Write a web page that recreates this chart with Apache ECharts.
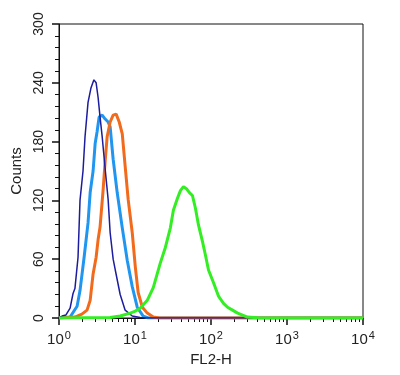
<!DOCTYPE html>
<html><head><meta charset="utf-8">
<script src="https://cdn.jsdelivr.net/npm/echarts@6/dist/echarts.min.js"></script>
<style>html,body{margin:0;padding:0;background:#fff}#c{width:400px;height:375px}</style>
</head><body><div id="c"></div>
<script>
// FL2-H values (log axis) and counts for each histogram
var navyX = [1, 1.1, 1.23, 1.4, 1.53, 1.62, 1.78, 1.89, 2.07, 2.2, 2.41, 2.64, 2.88, 3.08, 3.27, 3.47, 3.7, 4.05, 4.43, 4.71, 5.16, 5.5, 6.38, 7.42, 9.2, 11.7, 14, 10000];
var navyY = [0, 2, 3, 10, 25, 30, 62, 120, 150, 185, 220, 235, 243, 240, 225, 205, 185, 152, 121, 87, 60, 49, 24, 8, 2, 0.5, 0, 0];

var blueX = [1, 1.4, 1.48, 1.73, 1.89, 2.14, 2.41, 2.57, 2.81, 2.99, 3.17, 3.37, 3.7, 4.05, 4.43, 4.71, 5.16, 5.83, 6.77, 7.9, 9.2, 10.7, 12.8, 15, 10000];
var blueY = [0, 1, 3, 12, 28, 62, 97, 128, 150, 178, 190, 205, 207, 203, 200, 195, 162, 128, 93, 59, 32, 11, 2, 0, 0];

var orangeX = [1, 1.62, 2.0, 2.34, 2.57, 2.81, 3.08, 3.27, 3.47, 3.8, 4.05, 4.3, 4.71, 5.16, 5.65, 6.2, 6.8, 7.42, 8.13, 9.2, 10.1, 11.0, 12.5, 14.5, 17.4, 21, 10000];
var orangeY = [0, 1, 4, 8, 18, 45, 62, 80, 93, 130, 160, 185, 200, 207, 208, 200, 188, 155, 121, 87, 52, 26, 11, 5, 1, 0, 0];

var greenX = [1, 4.71, 6.38, 8.65, 10.1, 11.7, 14.5, 17.4, 21.5, 25.1, 29.2, 32.0, 36.1, 39.6, 43.4, 47.5, 52.0, 57.0, 62.4, 68.4, 77.3, 84.6, 92.7, 108, 126, 146, 165, 192, 224, 302, 411, 611, 10000];
var greenY = [0, 0.5, 2, 5, 7, 10, 18, 31, 56, 72, 92, 110, 122, 130, 134, 132, 128, 125, 112, 95, 78, 64, 49, 36, 22, 15, 11, 8, 5, 1, 0.3, 0, 0];

var xMinor = [2,3,4,5,6,7,8,9,20,30,40,50,60,70,80,90,200,300,400,500,600,700,800,900,2000,3000,4000,5000,6000,7000,8000,9000];

function pairs(xs, ys){ return xs.map(function(x,i){ return [x, ys[i]]; }); }

var chart = echarts.init(document.getElementById('c'), null, {renderer:'canvas'});
var font = 'Liberation Sans, Arial, sans-serif';
chart.setOption({
  animation: false,
  grid: {left: 59, right: 37, top: 24, bottom: 57, show: true, borderColor: '#111', borderWidth: 1, backgroundColor: 'transparent'},
  xAxis: [{
    type: 'log', logBase: 10, min: 1, max: 10000,
    name: 'FL2-H', nameLocation: 'middle', nameGap: 32,
    nameTextStyle: {fontFamily: font, fontSize: 15, color: '#222'},
    axisLine: {lineStyle: {color: '#111', width: 1}},
    axisTick: {show: true, length: 7, inside: false, lineStyle: {color: '#111', width: 1.5}},
    axisLabel: {
      margin: 12,
      formatter: function(v){ return '{b|10}{s|' + Math.round(Math.log10(v)) + '}'; },
      rich: {
        b: {fontFamily: font, fontSize: 15, color: '#222'},
        s: {fontFamily: font, fontSize: 11, color: '#222', padding: [0,0,9,1]}
      }
    },
    splitLine: {show: false}, minorTick: {show: false}
  }, {
    // minor log ticks, placed on a helper axis in log10 units
    type: 'value', min: 0, max: 4, position: 'bottom',
    axisLine: {show: true, lineStyle: {color: 'rgba(0,0,0,0)'}},
    axisTick: {show: true, length: 4, lineStyle: {color: '#111', width: 1}, customValues: xMinor.map(function(v){ return Math.log10(v); })},
    axisLabel: {show: false}, splitLine: {show: false}
  }],
  yAxis: {
    type: 'value', min: 0, max: 300, interval: 60,
    name: 'Counts', nameLocation: 'middle', nameGap: 29,
    nameTextStyle: {fontFamily: font, fontSize: 15, color: '#222'},
    axisLine: {show: true, lineStyle: {color: '#111', width: 1}},
    axisTick: {show: true, length: 7, lineStyle: {color: '#111', width: 1.5}},
    minorTick: {show: true, splitNumber: 5, length: 4, lineStyle: {color: '#111', width: 1}},
    axisLabel: {rotate: 90, margin: 13, fontFamily: font, fontSize: 14, color: '#222'},
    splitLine: {show: false}
  },
  series: [
    {type: 'line', name: 'blue', data: pairs(blueX, blueY), showSymbol: false, lineStyle: {color: '#2196f0', width: 3}, z: 2},
    {type: 'line', name: 'orange', data: pairs(orangeX, orangeY), showSymbol: false, lineStyle: {color: '#f26a1c', width: 3}, z: 3},
    {type: 'line', name: 'navy', data: pairs(navyX, navyY), showSymbol: false, lineStyle: {color: '#1c1c9e', width: 1.5}, z: 4},
    {type: 'line', name: 'green', data: pairs(greenX, greenY), showSymbol: false, lineStyle: {color: '#33ee22', width: 3}, z: 5}
  ]
});
</script></body></html>
